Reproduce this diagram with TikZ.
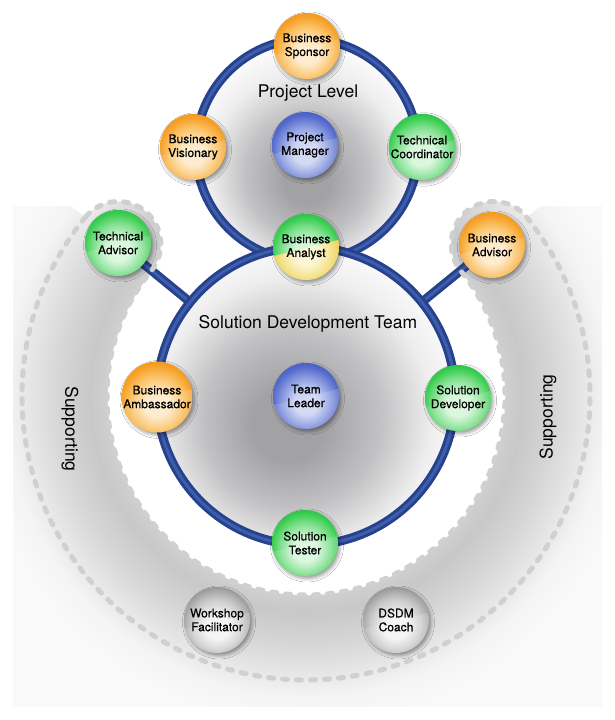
\documentclass[tikz,border=0pt]{standalone}
\usepackage{fontspec}
\setmainfont{TeX Gyre Heros}
\newfontface\labelface{TeX Gyre Heros}[FakeBold=0.5]
\usetikzlibrary{shadows.blur}
\pgfdeclarelayer{bg}
\pgfsetlayers{bg,main}

\definecolor{olight}{HTML}{FDE9C6}
\definecolor{omid}{HTML}{FBC062}
\definecolor{obase}{HTML}{F7A22C}
\definecolor{odark}{HTML}{EE8E12}
\definecolor{glight}{HTML}{D6F6DA}
\definecolor{gmid}{HTML}{7EDF8C}
\definecolor{gbase}{HTML}{3ECF55}
\definecolor{gdark}{HTML}{1CB83A}
\definecolor{blight}{HTML}{CCD4F3}
\definecolor{bmid}{HTML}{8495DE}
\definecolor{bbase}{HTML}{566CCD}
\definecolor{bdark}{HTML}{3A51BC}
\definecolor{klight}{HTML}{F4F4F4}
\definecolor{kmid}{HTML}{CDCDCD}
\definecolor{kbase}{HTML}{AAAAAA}
\definecolor{kdark}{HTML}{808080}
\definecolor{ylight}{HTML}{FBF4CC}
\definecolor{ymid}{HTML}{F4DE78}
\definecolor{ybase}{HTML}{EDCB42}
\definecolor{ydark}{HTML}{DDB425}
\definecolor{ringdark}{HTML}{27428C}
\definecolor{ringlight}{HTML}{3D5DAD}
\definecolor{dashgray}{HTML}{D0D0D0}
\definecolor{cone}{HTML}{A2A2A5}
\definecolor{ctwo}{HTML}{C2C2C4}
\definecolor{cthree}{HTML}{EEEEEF}
\definecolor{bandin}{HTML}{CFCFCF}
\definecolor{banddark}{HTML}{C8C8C8}
\definecolor{bandmid}{HTML}{D6D6D6}
\definecolor{bandout}{HTML}{EAEAEA}
\definecolor{glowa}{HTML}{F4F4F4}
\definecolor{glowb}{HTML}{F9F9F9}

\pgfdeclareradialshading{orangeball}{\pgfpoint{0bp}{-6bp}}{color(0bp)=(olight); color(9bp)=(olight); color(19bp)=(omid); color(25bp)=(obase); color(31bp)=(odark); color(50bp)=(odark)}
\pgfdeclareradialshading{greenball}{\pgfpoint{0bp}{-6bp}}{color(0bp)=(glight); color(9bp)=(glight); color(19bp)=(gmid); color(25bp)=(gbase); color(31bp)=(gdark); color(50bp)=(gdark)}
\pgfdeclareradialshading{blueball}{\pgfpoint{0bp}{-6bp}}{color(0bp)=(blight); color(9bp)=(blight); color(19bp)=(bmid); color(25bp)=(bbase); color(31bp)=(bdark); color(50bp)=(bdark)}
\pgfdeclareradialshading{grayball}{\pgfpoint{0bp}{-6bp}}{color(0bp)=(klight); color(9bp)=(klight); color(19bp)=(kmid); color(25bp)=(kbase); color(31bp)=(kdark); color(50bp)=(kdark)}
\pgfdeclareradialshading{yellowball}{\pgfpoint{0bp}{-6bp}}{color(0bp)=(ylight); color(9bp)=(ylight); color(19bp)=(ymid); color(25bp)=(ybase); color(31bp)=(ydark); color(50bp)=(ydark)}
\pgfdeclareradialshading{sdtglow}{\pgfpoint{-3.5bp}{-5.5bp}}{color(0bp)=(cone); color(6bp)=(cone); color(15bp)=(ctwo); color(23bp)=(cthree); color(30bp)=(white); color(50bp)=(white)}
\pgfdeclareradialshading{plglow}{\pgfpoint{0bp}{-8bp}}{color(0bp)=(cone); color(5bp)=(cone); color(14bp)=(ctwo); color(22bp)=(cthree); color(29bp)=(white); color(50bp)=(white)}
\pgfdeclareradialshading{bgshade}{\pgfpointorigin}{color(0bp)=(white); color(12.4bp)=(white); color(12.45bp)=(bandin); color(13.5bp)=(banddark); color(15.5bp)=(bandmid); color(17.75bp)=(bandout); color(18.75bp)=(glowa); color(20.5bp)=(glowb); color(50bp)=(glowb)}

\newcommand\nodefont{\labelface\fontsize{12}{13.8}\selectfont}
\newcommand\titlefont{\fontsize{17.5}{20}\selectfont}
\newcommand\mygloss{\fill[white, fill opacity=.16] ([shift={(-40,-11)}]path picture bounding box.center) -- ([shift={(40,9)}]path picture bounding box.center) -- ([shift={(40,-40)}]path picture bounding box.center) -- ([shift={(-40,-40)}]path picture bounding box.center) -- cycle;}
\newcommand\myyellow{\begin{scope}\clip ([shift={(-40,-11)}]path picture bounding box.center) -- ([shift={(40,9)}]path picture bounding box.center) -- ([shift={(40,-40)}]path picture bounding box.center) -- ([shift={(-40,-40)}]path picture bounding box.center) -- cycle; \shade[shading=yellowball] (path picture bounding box.south west) rectangle (path picture bounding box.north east);\end{scope}}

\begin{document}
\begin{tikzpicture}[x=1pt,y=1pt,
  sphere/.style={circle, minimum size=66pt, inner sep=0pt, align=center, font=\nodefont, text=black, shade,
    blur shadow={shadow xshift=2pt, shadow yshift=-2.5pt, shadow blur radius=3.5pt, shadow opacity=40},
    path picture={\mygloss}},
  orangenode/.style={sphere, shading=orangeball},
  greennode/.style={sphere, shading=greenball},
  bluenode/.style={sphere, shading=blueball},
  graynode/.style={sphere, shading=grayball},
  tube/.style={line width=3pt, double distance=3pt, draw=ringdark, double=ringlight},
  dashline/.style={draw=dashgray, line width=5pt, dash pattern=on 5pt off 9pt, line cap=round},
  title/.style={font=\titlefont, text=black}]
\useasboundingbox (0,0) rectangle (614,720);
\coordinate (C) at (306,324);
\coordinate (P) at (307,570);

% nodes
\node[orangenode] (sponsor) at (307,674) {Business\\Sponsor};
\node[orangenode] (visionary) at (193,573) {Business\\Visionary};
\node[bluenode] (pm) at (305,575) {Project\\Manager};
\node[greennode] (tc) at (422,573) {Technical\\Coordinator};
\node[greennode, path picture={\myyellow\mygloss}] (analyst) at (306,473) {Business\\Analyst};
\node[greennode] (ta) at (118,477) {Technical\\Advisor};
\node[orangenode] (ba) at (492,475) {Business\\Advisor};
\node[orangenode] (amb) at (157,323) {Business\\Ambassador};
\node[bluenode] (tl) at (306,324) {Team\\Leader};
\node[greennode] (sd) at (458,322) {Solution\\Developer};
\node[greennode] (st) at (305,177) {Solution\\Tester};
\node[graynode] (wf) at (217,100) {Workshop\\Facilitator};
\node[graynode] (dc) at (396,100) {DSDM\\Coach};

\node[title] (pl) at (308,627) {Project Level};
\node[title] (sdt) at (308,396) {Solution Development Team};
\node[title, rotate=-90] (supl) at (70,291) {Supporting};
\node[title, rotate=90] (supr) at (548,303) {Supporting};

\begin{pgfonlayer}{bg}
\fill[white] (0,0) rectangle (614,720);
\begin{scope}
  \clip (13,13) rectangle (602,513);
  \shade[shading=bgshade] (-94,-76) rectangle (706,724);
  \fill[white] (C) -- ([shift={(39:420)}]C) arc[start angle=39, end angle=141, radius=420] -- cycle;
\end{scope}
\begin{scope}
  \clip ([shift={(141:241.5)}]C) circle (42.5) ([shift={(39:241.5)}]C) circle (42.5);
  \shade[shading=bgshade] (-94,-76) rectangle (706,724);
\end{scope}

\shade[shading=plglow] (P) circle (111);
\draw[tube] (P) circle (111);
\shade[shading=sdtglow] (C) circle (149);

\coordinate (taj) at ([shift={(141:149)}]C);
\coordinate (baj) at ([shift={(39:149)}]C);
\draw[tube] (ta.center) -- (taj);
\draw[tube] (ba.center) -- (baj);
\draw[tube] (C) circle (149);

\draw[dashline] ([shift={(141:284)}]C) arc[start angle=141, end angle=399, radius=284]
  arc[start angle=39, end angle=219, radius=42.5]
  arc[start angle=39, end angle=-219, radius=199]
  arc[start angle=-39, end angle=141, radius=42.5] -- cycle;
\end{pgfonlayer}
\end{tikzpicture}
\end{document}
